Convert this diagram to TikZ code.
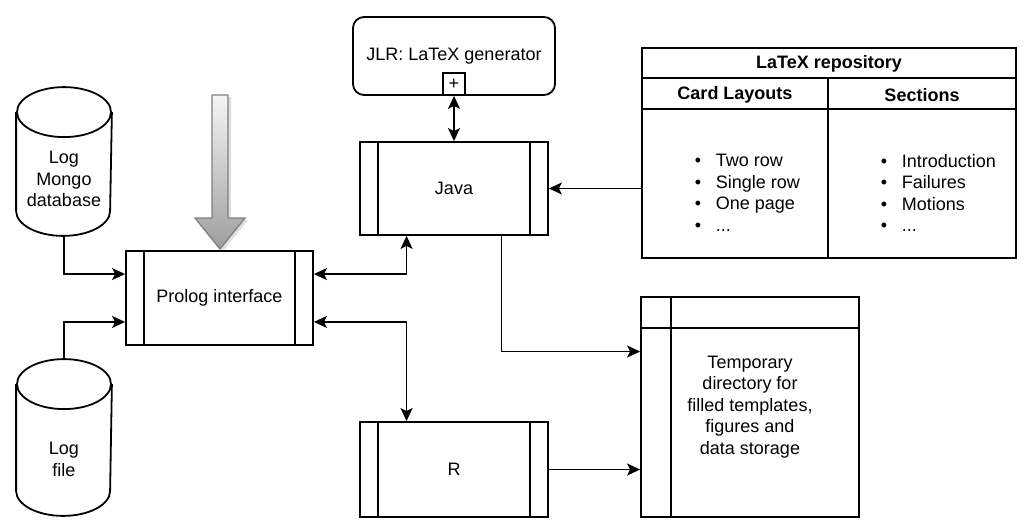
\documentclass[tikz,border=0pt]{standalone}
\usepackage{fontspec}
\setmainfont{Liberation Sans}
\usetikzlibrary{arrows.meta,calc,shadows}
\newcommand\diagsize{\fontsize{18}{21.6}\selectfont}

\begin{document}
\begin{tikzpicture}[x=1pt,y=-1pt,line width=1.8pt,font=\diagsize,
    proc/.style={draw,fill=white,minimum width=188pt,minimum height=93pt,inner sep=0pt},
    dbase/.style={minimum width=94pt,inner sep=0pt},
    hdr/.style={font=\diagsize\bfseries},
    arr/.style={-{Stealth[length=13pt,width=12pt,inset=3pt]}},
    dbl/.style={{Stealth[length=13pt,width=12pt,inset=3pt]}-{Stealth[length=13pt,width=12pt,inset=3pt]}}]
    \useasboundingbox (0,0) rectangle (1029,530);

    % databases
    \node[dbase,minimum height=147pt,label={[yshift=-17.5pt,align=center]center:Log\\Mongo\\database}] (mongo) at (64,161.5) {};
    \node[dbase,minimum height=155pt,label={[yshift=-22pt,align=center]center:Log\\file}] (logfile) at (64,437.5) {};
    \foreach \n in {mongo,logfile} {
      \draw ($(\n.north)+(0,25)$) ellipse [x radius=47,y radius=25];
      \draw ($(\n.north west)+(0,25)$) -- ($(\n.south west)+(0,-25)$)
        arc [start angle=180,end angle=0,x radius=47,y radius=25]
        -- ($(\n.north east)+(0,25)$);
    }

    % processes
    \node[proc,minimum width=187pt,minimum height=94pt] (prolog) at (219.5,298) {Prolog interface};
    \node[proc] (java) at (454,188.5) {Java};
    \node[proc,minimum height=95pt] (r) at (454,469.5) {R};
    \foreach \n in {prolog,java,r} {
      \draw ($(\n.north west)!0.1!(\n.north east)$) -- ($(\n.south west)!0.1!(\n.south east)$);
      \draw ($(\n.north west)!0.9!(\n.north east)$) -- ($(\n.south west)!0.9!(\n.south east)$);
    }

    \node[draw,rounded corners=11pt,minimum width=202pt,minimum height=78pt] (jlr) at (454,56) {JLR: LaTeX generator};
    \node[draw,fill=white,minimum size=22pt,inner sep=0pt,anchor=south] (plus) at (jlr.south) {+};

    % repository table
    \node[draw,minimum width=374pt,minimum height=210pt] (repo) at (829,153) {};
    \draw ($(repo.north west)+(0,31)$) -- ($(repo.north east)+(0,31)$);
    \draw ($(repo.north west)+(0,62)$) -- ($(repo.north east)+(0,62)$);
    \draw ($(repo.north)+(-1,31)$) -- ($(repo.south)+(-1,0)$);
    \node[hdr] (repotitle) at (829,64) {LaTeX repository};
    \node[hdr] (cardhdr) at (735,95) {Card Layouts};
    \node[hdr] (sechdr) at (922,95) {Sections};
    \node[anchor=west,align=left,inner sep=0pt] (cardlist) at (694,193)
      {\makebox[21pt][l]{\textbullet}Two row\\\makebox[21pt][l]{\textbullet}Single row\\
       \makebox[21pt][l]{\textbullet}One page\\\makebox[21pt][l]{\textbullet}...};
    \node[anchor=west,align=left,inner sep=0pt] (seclist) at (880,193)
      {\makebox[21pt][l]{\textbullet}Introduction\\\makebox[21pt][l]{\textbullet}Failures\\
       \makebox[21pt][l]{\textbullet}Motions\\\makebox[21pt][l]{\textbullet}...};

    % temporary directory
    \node[draw,minimum width=218pt,minimum height=220pt,align=center] (tmp) at (750,407)
      {Temporary\\directory for\\filled templates,\\figures and\\data storage};
    \draw ($(tmp.north west)+(31,0)$) -- ($(tmp.south west)+(31,0)$);
    \draw ($(tmp.north west)+(0,32)$) -- ($(tmp.north east)+(0,32)$);

    % big input arrow
    \draw[draw=gray,line width=1.3pt,top color=white!96!black,bottom color=black!38,
      drop shadow={shadow xshift=3pt,shadow yshift=-2pt,opacity=0.25}]
      (212,95) -- (228,95) -- (228,218) -- (245,218) -- (220,249)
      -- (195,218) -- (212,218) -- cycle;

    % connectors
    \draw[arr] (mongo.south) |- ($(prolog.north west)!0.25!(prolog.south west)$);
    \draw[arr] (logfile.north) |- ($(prolog.north west)!0.75!(prolog.south west)$);
    \draw[dbl] (plus.south) -- (java.north);
    \draw[dbl] ($(prolog.north east)!0.25!(prolog.south east)$) -| ($(java.south west)!0.25!(java.south east)$);
    \draw[dbl] ($(prolog.north east)!0.75!(prolog.south east)$) -| ($(r.north west)!0.25!(r.north east)$);
    \draw[arr] ($(java.south west)!0.75!(java.south east)$) |- ($(tmp.north west)!0.25!(tmp.south west)$);
    \draw[arr] (r.east) -- (r.east -| tmp.west);
    \draw[arr] (repo.west |- java.east) -- (java.east);
\end{tikzpicture}
\end{document}
